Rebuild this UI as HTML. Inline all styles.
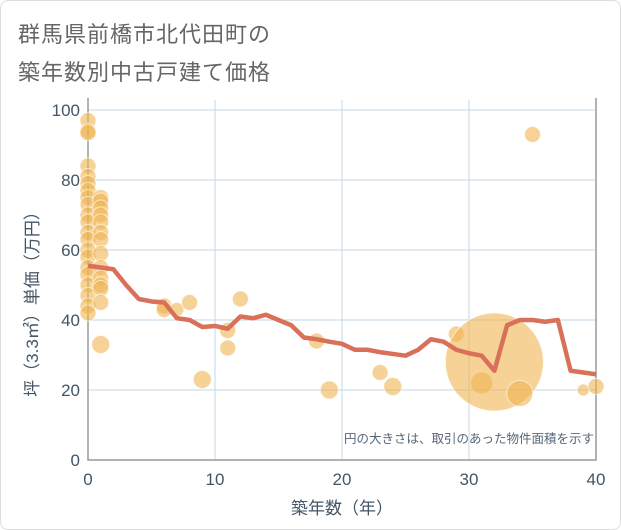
<!DOCTYPE html>
<html><head><meta charset="utf-8"><style>
body{margin:0;background:#fff;}
#wrap{position:relative;width:619px;height:528px;border:1px solid #ddd;border-radius:8px;overflow:hidden;background:#fff;}
.t{position:absolute;left:17px;font:22px "Liberation Sans","Noto Sans CJK JP",sans-serif;color:#666;letter-spacing:1px;}
svg text{font-family:"Liberation Sans","Noto Sans CJK JP",sans-serif;}
</style></head><body>
<div id="wrap">
<div class="t" style="top:16px">群馬県前橋市北代田町の</div>
<div class="t" style="top:54px">築年数別中古戸建て価格</div>
<svg id="c" width="621" height="530" style="position:absolute;left:-1px;top:-1px"></svg>
</div>
<script>
const xTicks=[0,10,20,30,40];
const yTicks=[0,20,40,60,80,100];
const lineYears=[0,1,2,3,4,5,6,7,8,9,10,11,12,13,14,15,16,17,18,19,20,21,22,23,24,25,26,27,28,29,30,31,32,33,34,35,36,37,38,39,40];
const lineValues=[55.5,55,54.5,50,46,45.3,45,40.5,40,38,38.3,37.5,41,40.5,41.5,40,38.5,35,34.5,33.8,33.2,31.5,31.5,30.8,30.3,29.8,31.5,34.5,33.8,31.5,30.5,29.8,25.5,38.5,40,40,39.5,40,25.5,25,24.5];
const bubbleYears=[0,0,0,0,0,0,0,0,0,0,0,0,0,0,0,0,0,0,0,0,0,1,1,1,1,1,1,1,1,1,1,1,1,1,1,6,6,7,8,9,11,11,12,18,19,23,24,29,31,32,34,35,39,40];
const bubbleValues=[97,94,93.5,84,81,79,77,75,73,70,68,65,63,60,58,55,53,50,47,44,42,75,74,72,70,68,65,63,59,55,52,50,49,45,33,44,43,43,45,23,37,32,46,34,20,25,21,36,22,28,19,93,20,21];
const bubbleRadius=[8,8,8,8,8,8,8,8,8,8,8,8,8,8,8,8,8,8,8,8,8,8,8,8,8,8,8,8,8,8,8,8,8,8,9,8,8,7,8,9,8,8,8,8,9,8,9,8,11,49,13,8,6,8];
const X0=88,X1=596,Y0=460,Y1=110;
const sx=v=>X0+(v-0)/40*(X1-X0);
const sy=v=>Y0-(v/100)*(Y0-Y1);
const svg=document.getElementById('c');const NS='http://www.w3.org/2000/svg';
function mk(t,a){const e=document.createElementNS(NS,t);for(const k in a)e.setAttribute(k,a[k]);svg.appendChild(e);return e;}
xTicks.forEach(v=>{const l=mk('line',{x1:sx(v),x2:sx(v),y1:Y1-10,y2:Y0,stroke:'#c5d7e6','stroke-width':1});


const t=mk('text',{x:sx(v),y:Y0+25,'text-anchor':'middle','font-size':17,fill:'#445566'});t.textContent=v;

});
yTicks.forEach(v=>{const l=mk('line',{x1:X0,x2:X1,y1:sy(v),y2:sy(v),stroke:'#c5d7e6','stroke-width':1});


const t=mk('text',{x:X0-8,y:sy(v)+6,'text-anchor':'end','font-size':17,fill:'#445566'});t.textContent=v;

});
const ax=mk('path',{d:`M${X0} ${Y1-12}V${Y0}H${X1}V${Y1-12}`,fill:'none',stroke:'#999','stroke-width':1.5});


bubbleYears.forEach((y,i)=>{const c=mk('circle',{cx:sx(y),cy:sy(bubbleValues[i]),r:bubbleRadius[i],fill:'rgba(240,180,80,0.6)',stroke:'rgba(255,255,255,0.6)','stroke-width':1});

});
const p=mk('polyline',{points:lineYears.map((y,i)=>sx(y)+','+sy(lineValues[i])).join(' '),fill:'none',stroke:'#d9705a','stroke-width':4.5,'stroke-linejoin':'round'});


const n=mk('text',{x:594,y:443,'text-anchor':'end','font-size':12.5,fill:'#556677'});n.textContent='円の大きさは、取引のあった物件面積を示す';


const xt=mk('text',{x:342,y:514,'text-anchor':'middle','font-size':17,fill:'#445566'});xt.textContent='築年数（年）';


const yt=mk('text',{x:0,y:0,'text-anchor':'middle','font-size':17,fill:'#445566',transform:'translate(38,300) rotate(-90)'});yt.textContent='坪（3.3㎡）単価（万円）';


</script>
</body></html>
